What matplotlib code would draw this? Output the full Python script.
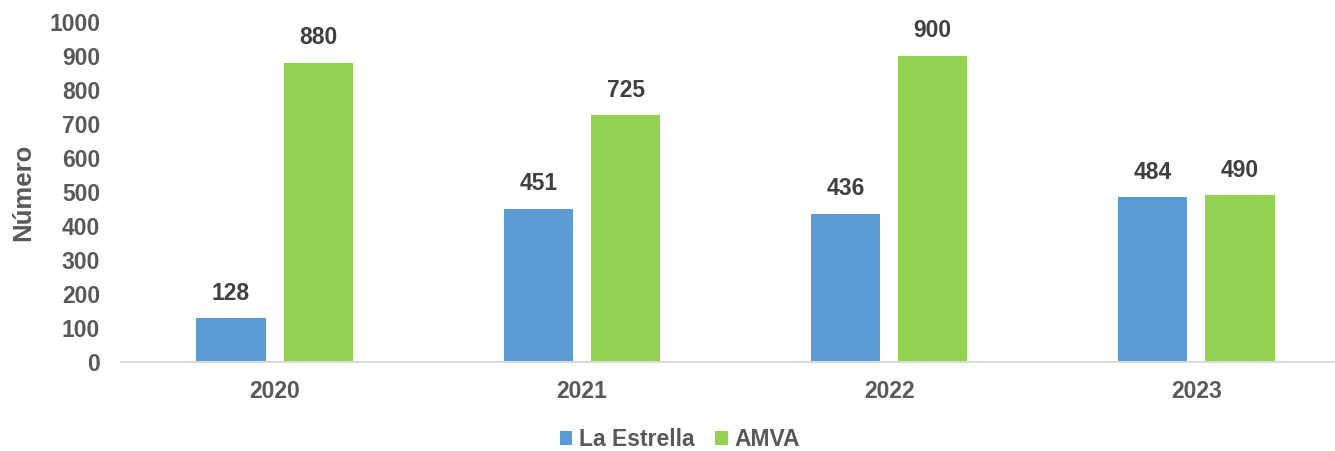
import matplotlib
matplotlib.use("Agg")
import matplotlib.pyplot as plt
import numpy as np

categories = ["2020", "2021", "2022", "2023"]
series_names = ["La Estrella", "AMVA"]
la_estrella = [128, 451, 436, 484]
amva = [880, 725, 900, 490]
colors = ["#5B9BD5", "#92D050"]
yticks = [0, 100, 200, 300, 400, 500, 600, 700, 800, 900, 1000]

plt.rcParams['font.family'] = ['Liberation Sans', 'DejaVu Sans']
plt.rcParams['font.weight'] = 'bold'
gray = "#595959"
fs = 16.5

W, H = 1335, 451
fig = plt.figure(figsize=(W/100, H/100), dpi=100)
left, right, top, bottom = 121, 1350, 22, 362
ax = fig.add_axes([left/W, 1 - bottom/H, (right-left)/W, (bottom-top)/H])

x = np.arange(len(categories))
bw = 0.225
off = 0.142
b1 = ax.bar(x - off, la_estrella, bw, color=colors[0], label=series_names[0])
b2 = ax.bar(x + off, amva, bw, color=colors[1], label=series_names[1])

for bars in (b1, b2):
    for r in bars:
        ax.annotate(f"{int(r.get_height())}", (r.get_x() + r.get_width()/2, r.get_height()),
                    xytext=(0, 10), textcoords="offset points", ha="center", va="bottom",
                    fontsize=fs, fontweight="bold", color="#404040")

ax.set_xlim(-0.5, len(categories) - 0.5)
ax.set_ylim(0, 1000)
ax.set_yticks(yticks)
ax.set_yticklabels([str(t) for t in yticks], fontsize=fs, fontweight="bold", color=gray)
ax.set_xticks(x)
ax.set_xticklabels(categories, fontsize=fs, fontweight="bold", color=gray)
ax.tick_params(axis="both", length=0)
ax.tick_params(axis="y", pad=15)
ax.tick_params(axis="x", pad=13)
for s in ["top", "right", "left"]:
    ax.spines[s].set_visible(False)
ax.spines["bottom"].set_color("#D9D9D9")
ax.spines["bottom"].set_linewidth(1.5)

fig.text(23/W, 1 - 192/H, "Número", rotation=90, ha="center", va="center",
         fontsize=18.5, fontweight="bold", color=gray)

leg = fig.legend(handles=[b1, b2], labels=series_names, loc="center",
                 bbox_to_anchor=(680/W, 1 - 440/H), ncol=2, frameon=False,
                 prop={"size": fs, "weight": "bold"}, handlelength=0.55, handleheight=0.55,
                 handletextpad=0.3, columnspacing=0.9)
for t in leg.get_texts():
    t.set_color(gray)

fig.savefig("out.png", dpi=100)
